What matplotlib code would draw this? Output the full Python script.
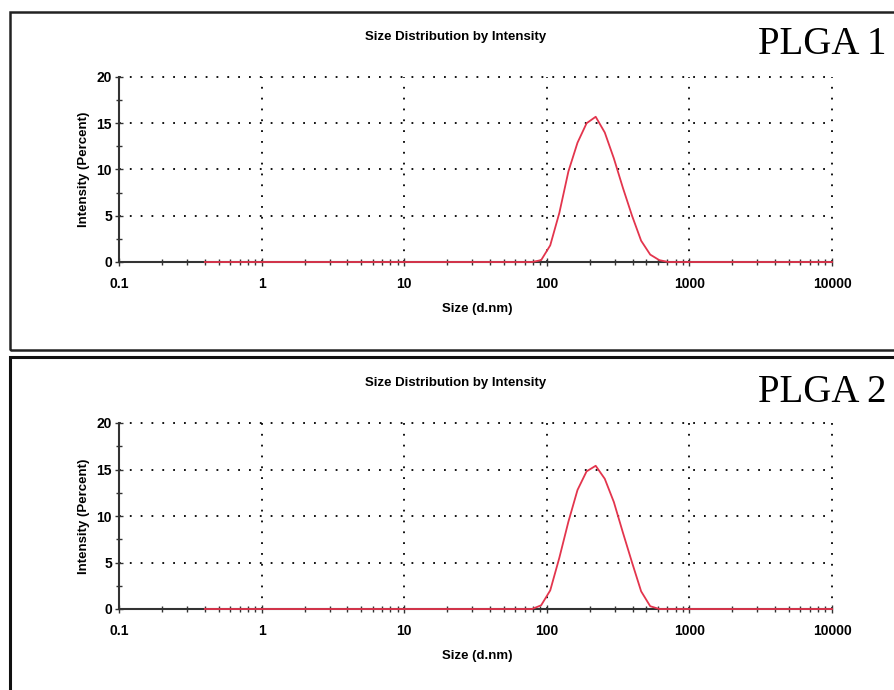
import matplotlib
matplotlib.use("Agg")
import matplotlib.pyplot as plt
from matplotlib.patches import Rectangle
from matplotlib.ticker import FixedLocator, NullFormatter

plt.rcParams['font.family'] = ['Liberation Sans Narrow', 'Liberation Sans', 'DejaVu Sans']

# Malvern size classes (d.nm)
sizes = [0.4, 0.4632, 0.5365, 0.6213, 0.7195, 0.8332, 0.9649, 1.117, 1.294, 1.499,
         1.736, 2.010, 2.328, 2.696, 3.122, 3.615, 4.187, 4.849, 5.615, 6.503,
         7.531, 8.721, 10.10, 11.70, 13.54, 15.69, 18.17, 21.04, 24.36, 28.21,
         32.67, 37.84, 43.82, 50.75, 58.77, 68.06, 78.82, 91.28, 105.7, 122.4,
         141.8, 164.2, 190.1, 220.2, 255.0, 295.3, 342.0, 396.1, 458.7, 531.2,
         615.1, 712.4, 825.0, 955.4, 1106, 1281, 1484, 1718, 1990, 2305,
         2669, 3091, 3580, 4145, 4801, 5560, 6439, 7456, 8635, 10000]

intensity_plga1 = [0, 0, 0, 0, 0, 0, 0, 0, 0, 0,
                   0, 0, 0, 0, 0, 0, 0, 0, 0, 0,
                   0, 0, 0, 0, 0, 0, 0, 0, 0, 0,
                   0, 0, 0, 0, 0, 0, 0, 0.2, 1.8, 5.3,
                   9.8, 12.9, 15.0, 15.7, 14.0, 11.2, 8.0, 5.0, 2.3, 0.8,
                   0.2, 0, 0, 0, 0, 0, 0, 0, 0, 0,
                   0, 0, 0, 0, 0, 0, 0, 0, 0, 0]

intensity_plga2 = [0, 0, 0, 0, 0, 0, 0, 0, 0, 0,
                   0, 0, 0, 0, 0, 0, 0, 0, 0, 0,
                   0, 0, 0, 0, 0, 0, 0, 0, 0, 0,
                   0, 0, 0, 0, 0, 0, 0, 0.4, 2.0, 5.5,
                   9.4, 12.8, 14.8, 15.4, 14.0, 11.5, 8.2, 5.0, 1.9, 0.3,
                   0, 0, 0, 0, 0, 0, 0, 0, 0, 0,
                   0, 0, 0, 0, 0, 0, 0, 0, 0, 0]

panel_labels = ["PLGA 1", "PLGA 2"]
title_text = "Size Distribution by Intensity"
xlabel_text = "Size (d.nm)"
ylabel_text = "Intensity (Percent)"
x_major = [0.1, 1, 10, 100, 1000, 10000]
x_major_labels = ["0.1", "1", "10", "100", "1000", "10000"]
y_major = [0, 5, 10, 15, 20]

W, H = 894, 690
fig = plt.figure(figsize=(W / 100, H / 100), dpi=100)

def fx(px):
    return px / W

def fy(py):
    return 1 - py / H

# panel frames
fig.patches.append(Rectangle((fx(10), fy(350)), fx(900) - fx(10), fy(12) - fy(350),
                             transform=fig.transFigure, fill=False, ec='#222222', lw=1.8))
fig.patches.append(Rectangle((fx(10), fy(700)), fx(900) - fx(10), fy(357) - fy(700),
                             transform=fig.transFigure, fill=False, ec='#111111', lw=2.2))

panels = [
    dict(data=intensity_plga1, top=77, bottom=262, title_y=37, label_y=45, xlab_y=309),
    dict(data=intensity_plga2, top=423, bottom=609, title_y=383, label_y=392, xlab_y=656),
]

dot = (0, (1, 5))
for i, p in enumerate(panels):
    ax = fig.add_axes([fx(119), fy(p['bottom']), fx(832) - fx(119), fy(p['top']) - fy(p['bottom'])])
    ax.set_xscale('log')
    ax.set_xlim(0.1, 10000)
    ax.set_ylim(0, 20)
    for s in ['top', 'right']:
        ax.spines[s].set_visible(False)
    for s in ['left', 'bottom']:
        ax.spines[s].set_color('#333333')
        ax.spines[s].set_linewidth(1.5)
    # dotted grid
    for xv in x_major[1:]:
        ax.axvline(xv, color='black', lw=1.3, ls=dot, clip_on=False, zorder=1)
    for yv in y_major[1:]:
        ax.axhline(yv, color='black', lw=1.3, ls=dot, clip_on=False, zorder=1)
    ax.plot(sizes, p['data'], color='#e3354d', lw=1.3, clip_on=False, zorder=3)

    ax.xaxis.set_major_locator(FixedLocator(x_major))
    ax.set_xticklabels(x_major_labels)
    minors = [m * 10 ** e for e in range(-1, 4) for m in range(2, 10)]
    ax.xaxis.set_minor_locator(FixedLocator(minors))
    ax.xaxis.set_minor_formatter(NullFormatter())
    ax.set_yticks(y_major)
    ax.yaxis.set_minor_locator(FixedLocator([2.5, 7.5, 12.5, 17.5]))
    ax.tick_params(axis='both', which='both', direction='inout', color='#333333', width=1.0)
    ax.tick_params(axis='both', which='major', length=6, labelsize=10)
    ax.tick_params(axis='x', which='major', pad=8)
    ax.tick_params(axis='y', which='major', pad=2)
    ax.tick_params(axis='both', which='minor', length=4)
    for lab in ax.get_xticklabels() + ax.get_yticklabels():
        lab.set_fontweight('bold')
    ax.set_ylabel(ylabel_text, fontsize=9.5, fontweight='bold', labelpad=5)

    fig.text(fx(456), fy(p['title_y']), title_text, ha='center', va='center',
             fontsize=9.5, fontweight='bold')
    fig.text(fx(477), fy(p['xlab_y']), xlabel_text, ha='center', va='center',
             fontsize=9.5, fontweight='bold')
    fig.text(fx(887), fy(p['label_y']), panel_labels[i], ha='right', va='center',
             fontsize=28, family=['Liberation Serif', 'DejaVu Serif'])

fig.savefig('out.png', dpi=100)
